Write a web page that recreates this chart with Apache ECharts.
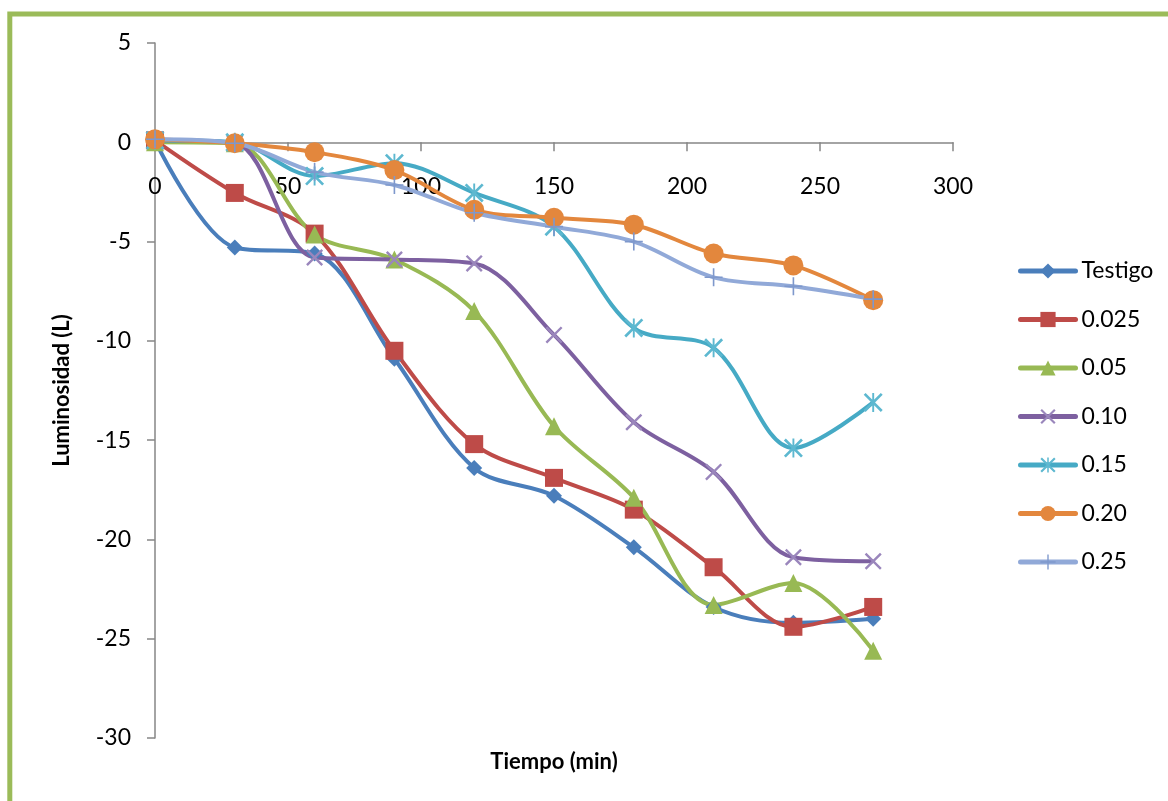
<!DOCTYPE html>
<html>
<head>
<meta charset="utf-8">
<script src="https://cdn.jsdelivr.net/npm/echarts@6/dist/echarts.min.js"></script>
<style>
html,body{margin:0;padding:0;background:#fff;}
#chart{width:1168px;height:801px;}
</style>
</head>
<body>
<div id="chart"></div>
<script>
const tiempo = [0, 30, 60, 90, 120, 150, 180, 210, 240, 270];
const seriesNames = ['Testigo', '0.025', '0.05', '0.10', '0.15', '0.20', '0.25'];
const testigo = [0.1, -5.3, -5.6, -10.9, -16.4, -17.8, -20.4, -23.4, -24.2, -24.0];
const c0025 = [0.1, -2.55, -4.6, -10.5, -15.2, -16.9, -18.5, -21.4, -24.4, -23.4];
const c005 = [0.0, -0.05, -4.65, -5.9, -8.5, -14.3, -17.9, -23.3, -22.2, -25.6];
const c010 = [0.1, -0.05, -5.8, -5.9, -6.1, -9.7, -14.1, -16.6, -20.9, -21.1];
const c015 = [0.1, 0.0, -1.7, -1.05, -2.55, -4.25, -9.35, -10.35, -15.4, -13.1];
const c020 = [0.15, -0.05, -0.5, -1.4, -3.4, -3.8, -4.15, -5.6, -6.2, -7.95];
const c025 = [0.15, -0.05, -1.5, -2.15, -3.55, -4.25, -5.0, -6.8, -7.25, -7.9];
const allValues = [testigo, c0025, c005, c010, c015, c020, c025];

const lineColors = ['#4A7EBB', '#BE4B48', '#98B954', '#7D60A0', '#46AAC5', '#E3873D', '#91A9D8'];
const markColors = ['#4A7EBB', '#BE4B48', '#98B954', '#9A86BC', '#5DB8D0', '#E3873D', '#7E98CC'];
const X_PATH = 'path://M0,1 L1,0 L10,9 L9,10 Z M9,0 L10,1 L1,10 L0,9 Z';
const AST_PATH = 'path://M0,1 L1,0 L10,9 L9,10 Z M9,0 L10,1 L1,10 L0,9 Z M4.5,0 L5.5,0 L5.5,10 L4.5,10 Z';
const PLUS_PATH = 'path://M4.55,0 L5.45,0 L5.45,10 L4.55,10 Z M0,4.55 L10,4.55 L10,5.45 L0,5.45 Z';
const symbols = ['diamond', 'rect', 'triangle', X_PATH, AST_PATH, 'circle', PLUS_PATH];
const symbolSizes = [16, 18, 18, 17, 19, 20, 18];

const FONT = 'Lato, "Open Sans", sans-serif';

// plot area
const G_LEFT = 155, G_TOP = 43, G_RIGHT = 215, G_BOTTOM = 63;
const Y_MIN = -30, Y_MAX = 5;
const plotH = 801 - G_TOP - G_BOTTOM;
const zeroOffset = plotH * (Y_MAX - 0) / (Y_MAX - Y_MIN);

const chart = echarts.init(document.getElementById('chart'), null, {renderer: 'canvas'});

const series = seriesNames.map((name, i) => ({
  name: name,
  type: 'line',
  xAxisIndex: 0,
  yAxisIndex: 0,
  data: tiempo.map((t, j) => [t, allValues[i][j]]),
  smooth: 0.33,
  symbol: symbols[i],
  symbolSize: symbolSizes[i],
  showAllSymbol: true,
  lineStyle: {color: lineColors[i], width: 4},
  itemStyle: {color: markColors[i]},
  emphasis: {disabled: true},
  animation: false
}));

chart.setOption({
  animation: false,
  graphic: [{
    type: 'rect',
    shape: {x: 9.8, y: 14, width: 1400, height: 1000},
    style: {fill: 'none', stroke: '#9BBB59', lineWidth: 5},
    silent: true,
    z: -10
  }],
  grid: [
    {left: G_LEFT, top: G_TOP, right: G_RIGHT, bottom: G_BOTTOM, containLabel: false, outerBoundsMode: 'none'},
    {left: G_LEFT, top: G_TOP, right: G_RIGHT, height: zeroOffset, containLabel: false, outerBoundsMode: 'none'}
  ],
  xAxis: [{
    gridIndex: 0,
    type: 'value',
    min: 0,
    max: 300,
    interval: 50,
    show: false
  }, {
    gridIndex: 1,
    type: 'value',
    position: 'bottom',
    min: 0,
    max: 300,
    interval: 50,
    name: 'Tiempo (min)',
    nameLocation: 'middle',
    nameGap: 609,
    nameTextStyle: {fontFamily: FONT, fontSize: 22, fontWeight: 'bold', color: '#000'},
    axisLine: {show: true, onZero: false, lineStyle: {color: '#868686', width: 1.5}},
    axisTick: {show: true, inside: false, length: 9, lineStyle: {color: '#868686', width: 1.5}},
    axisLabel: {fontFamily: FONT, fontSize: 23, color: '#000', margin: 33},
    splitLine: {show: false}
  }],
  yAxis: [{
    gridIndex: 0,
    type: 'value',
    min: Y_MIN,
    max: Y_MAX,
    interval: 5,
    name: 'Luminosidad (L)',
    nameLocation: 'middle',
    nameGap: 82,
    nameRotate: 90,
    nameTextStyle: {fontFamily: FONT, fontSize: 22, fontWeight: 'bold', color: '#000'},
    axisLine: {show: true, onZero: false, lineStyle: {color: '#868686', width: 1.5}},
    axisTick: {show: true, inside: false, length: 8, lineStyle: {color: '#868686', width: 1.5}},
    axisLabel: {fontFamily: FONT, fontSize: 23, color: '#000', margin: 24},
    splitLine: {show: false}
  }, {
    gridIndex: 1,
    type: 'value',
    show: false
  }],
  legend: {
    orient: 'vertical',
    left: 1013,
    top: 254,
    itemWidth: 55,
    itemHeight: 19,
    itemGap: 24.5,
    lineStyle: {width: 5, cap: 'round'},
    textStyle: {fontFamily: FONT, fontSize: 23, color: '#000', lineHeight: 24, padding: [0, 0, 0, 1]},
    data: seriesNames,
    selectedMode: false
  },
  tooltip: {show: false},
  series: series
});
</script>
</body>
</html>
